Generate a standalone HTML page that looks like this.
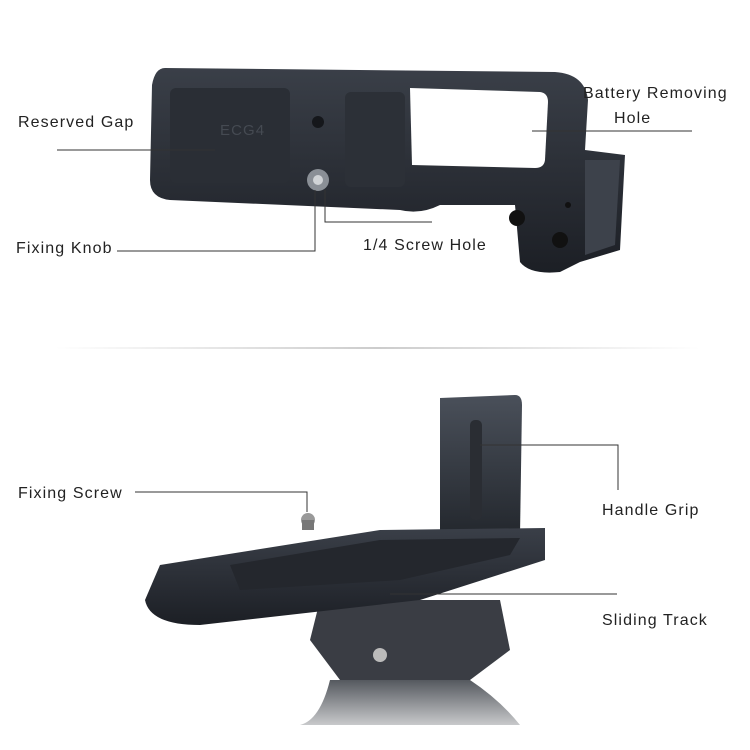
<!DOCTYPE html>
<html><head><meta charset="utf-8"><style>
html,body{margin:0;padding:0;background:#fff;}
svg{display:block;}
text{font-family:"Liberation Sans","DejaVu Sans",sans-serif;font-size:16px;fill:#222;letter-spacing:1.1px;}
</style></head><body>
<svg width="750" height="750" viewBox="0 0 750 750" xmlns="http://www.w3.org/2000/svg">
<defs>
<linearGradient id="g1" x1="0" y1="0" x2="0" y2="1"><stop offset="0" stop-color="#3a3f48"/><stop offset="1" stop-color="#1c1f25"/></linearGradient>
<linearGradient id="g2" x1="0" y1="0" x2="0" y2="1"><stop offset="0" stop-color="#4a505a"/><stop offset="1" stop-color="#22262c"/></linearGradient>
<linearGradient id="g3" x1="0" y1="0" x2="0" y2="1"><stop offset="0" stop-color="#55595f"/><stop offset="1" stop-color="#c8c9cb"/></linearGradient>
<linearGradient id="div" x1="0" y1="0" x2="1" y2="0"><stop offset="0" stop-color="#fff"/><stop offset="0.5" stop-color="#ccc"/><stop offset="1" stop-color="#fff"/></linearGradient>
</defs>
<!-- top bracket -->
<path d="M165,68 L555,72 Q585,74 588,100 L585,150 L625,155 L620,250 L580,262 L560,272 Q530,275 520,262 L515,205 L440,205 Q420,215 400,210 L170,200 Q150,198 150,180 L152,85 Q155,68 165,68 Z" fill="url(#g1)"/>
<rect x="170" y="88" width="120" height="95" rx="6" fill="#2a2e35"/>
<rect x="345" y="92" width="60" height="95" rx="6" fill="#2c3037"/>
<path d="M410,88 L540,92 Q548,93 548,102 L545,160 Q544,168 535,168 L412,165 Z" fill="#fff"/>
<path d="M585,160 L620,160 L615,245 L585,255 Z" fill="#3d424b"/>
<circle cx="318" cy="122" r="6" fill="#15171b"/>
<circle cx="318" cy="180" r="11" fill="#8a8f96"/><circle cx="318" cy="180" r="5" fill="#d0d3d6"/>
<circle cx="517" cy="218" r="8" fill="#111"/><circle cx="560" cy="240" r="8" fill="#111"/><circle cx="568" cy="205" r="3" fill="#111"/>
<text x="220" y="135" style="font-size:15px;fill:#454a52">ECG4</text>
<!-- top labels -->
<text x="18" y="127">Reserved Gap</text>
<line x1="57" y1="150" x2="215" y2="150" stroke="#333" stroke-width="1"/>
<text x="583" y="98">Battery Removing</text>
<text x="614" y="123">Hole</text>
<line x1="532" y1="131" x2="692" y2="131" stroke="#333" stroke-width="1"/>
<text x="16" y="253">Fixing Knob</text>
<polyline points="117,251 315,251 315,190" fill="none" stroke="#333" stroke-width="1"/>
<text x="363" y="250">1/4 Screw Hole</text>
<polyline points="325,190 325,222 432,222" fill="none" stroke="#333" stroke-width="1"/>
<!-- divider -->
<rect x="55" y="347" width="645" height="2" fill="url(#div)"/>
<!-- bottom: tripod -->
<path d="M320,600 L500,600 L510,650 L470,680 L340,680 L310,640 Z" fill="#3a3d44"/>
<path d="M330,680 Q320,720 300,725 L520,725 Q500,700 470,680 Z" fill="url(#g3)"/>
<circle cx="380" cy="655" r="7" fill="#bbb"/>
<!-- bottom bracket -->
<path d="M440,398 L515,395 Q522,395 522,405 L520,535 L440,540 Z" fill="url(#g2)"/>
<rect x="470" y="420" width="12" height="100" rx="5" fill="#2a2d33"/>
<path d="M160,565 L380,530 L545,528 L545,560 L420,600 L200,625 Q150,625 145,600 Z" fill="url(#g1)"/>
<path d="M230,565 L380,540 L520,538 L510,555 L400,580 L240,590 Z" fill="#24272d"/>
<circle cx="308" cy="520" r="7" fill="#999"/><rect x="302" y="520" width="12" height="10" fill="#777"/>
<!-- bottom labels -->
<text x="18" y="498">Fixing Screw</text>
<polyline points="135,492 307,492 307,512" fill="none" stroke="#333" stroke-width="1"/>
<text x="602" y="515">Handle Grip</text>
<polyline points="480,445 618,445 618,490" fill="none" stroke="#333" stroke-width="1"/>
<text x="602" y="625">Sliding Track</text>
<line x1="390" y1="594" x2="617" y2="594" stroke="#333" stroke-width="1"/>
</svg>
</body></html>
